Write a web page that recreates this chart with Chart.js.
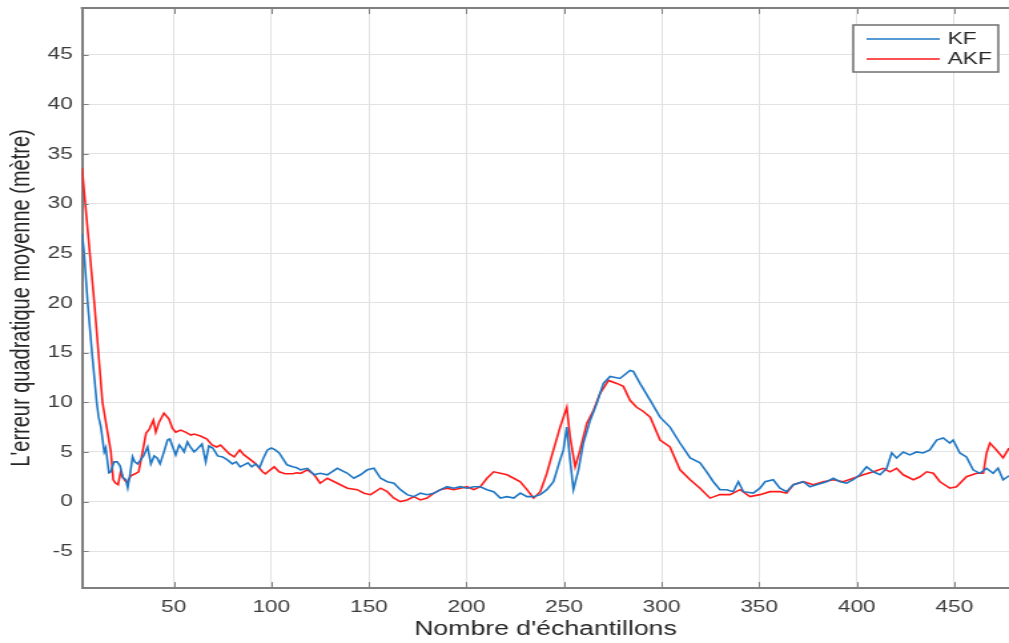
<!DOCTYPE html>
<html>
<head>
<meta charset="utf-8">
<script src="https://cdn.jsdelivr.net/npm/chart.js@4.4.1/dist/chart.umd.min.js"></script>
<style>
  html, body { margin: 0; padding: 0; background: #fff; overflow: hidden; }
  #wrap { width: 1009px; height: 643px; overflow: hidden; }
  #c { display: block; transform-origin: 0 0; transform: scaleX(1.3311); filter: blur(0.3px); }
</style>
</head>
<body>
<div id="wrap"><canvas id="c" width="758" height="643"></canvas></div>
<script>
// Sample index and RMS error (metres) for the plain Kalman filter
const kfSamples = [3, 4, 5.9, 8.1, 10.5, 11.5, 12.7, 14.4, 15.2, 16.8, 17.8, 19.4, 21, 22.5, 24, 25.5, 26.4, 27.5, 28.9, 30, 31.5, 33, 34.5, 36.6, 38.3, 40, 41.5, 43, 45, 46.8, 48, 49.5, 51, 52.8, 54, 55.3, 57, 58.5, 60.4, 62, 64.5, 66.4, 68, 70, 72.5, 75, 77.5, 80, 82, 84, 86, 88, 90, 92, 94, 96, 98, 100, 102, 104, 106, 108, 110.9, 113, 115, 118.5, 122, 125, 128.7, 133.8, 139, 142.3, 145.7, 149.2, 152.6, 156, 159.4, 162.8, 166.2, 169.6, 173, 176.4, 179.8, 183.3, 186.7, 190, 193.5, 196.9, 200.3, 203.7, 207.1, 210.5, 213.9, 217.4, 220.8, 224.2, 227.6, 231, 234.4, 237.8, 241.2, 244.6, 248, 249.7, 251.4, 253.1, 254.8, 257.4, 259.9, 263.4, 266.8, 270.2, 273.6, 278.7, 283.8, 285.5, 288.9, 294.2, 299.2, 304.3, 309.4, 314.6, 319.7, 323.1, 326.5, 329.9, 333.3, 336.7, 339.3, 341.9, 347, 350.4, 353, 357.2, 360.6, 364, 367.5, 372.6, 376, 379.4, 384.5, 388, 391.4, 394.8, 398.2, 401.6, 405, 408.5, 411.9, 415.3, 417.9, 420.4, 423.8, 427.2, 430.6, 434, 437.4, 440.9, 444.3, 447.7, 449.4, 452.8, 456.2, 459.6, 463, 466.5, 469.9, 472.4, 475, 478];
const kfError = [27.0, 25.2, 20.0, 15.0, 10.0, 8.5, 7.5, 5.0, 5.4, 2.9, 3.0, 4.0, 4.0, 3.6, 2.4, 2.2, 1.4, 2.6, 4.5, 4.0, 3.8, 4.2, 4.6, 5.5, 3.8, 4.6, 4.4, 3.8, 5.0, 6.2, 6.3, 5.5, 4.7, 5.7, 5.4, 5.0, 6.0, 5.5, 5.0, 5.3, 5.8, 4.0, 5.6, 5.4, 4.6, 4.5, 4.2, 3.8, 4.0, 3.5, 3.7, 3.9, 3.5, 3.8, 3.4, 4.4, 5.2, 5.4, 5.2, 4.9, 4.3, 3.7, 3.5, 3.4, 3.2, 3.35, 2.7, 2.85, 2.7, 3.35, 2.85, 2.35, 2.7, 3.2, 3.35, 2.35, 2.0, 1.85, 1.2, 0.7, 0.5, 0.85, 0.7, 0.85, 1.2, 1.5, 1.35, 1.5, 1.35, 1.5, 1.5, 1.2, 1.0, 0.35, 0.5, 0.35, 0.85, 0.5, 0.5, 0.7, 1.2, 2.0, 4.2, 5.2, 7.5, 4.2, 1.2, 3.2, 5.9, 8.2, 9.9, 11.9, 12.6, 12.4, 13.2, 13.1, 11.9, 10.2, 8.5, 7.5, 5.9, 4.4, 3.9, 3.0, 2.0, 1.2, 1.2, 1.0, 2.0, 1.0, 0.85, 1.35, 2.0, 2.2, 1.35, 1.0, 1.7, 2.0, 1.5, 1.7, 2.0, 2.35, 2.0, 1.85, 2.2, 2.7, 3.5, 3.0, 2.7, 3.35, 4.9, 4.4, 5.0, 4.7, 5.0, 4.9, 5.2, 6.2, 6.4, 5.9, 6.2, 4.9, 4.5, 3.2, 2.85, 3.35, 2.85, 3.35, 2.2, 2.6];

// Sample index and RMS error (metres) for the adaptive Kalman filter
const akfSamples = [3, 9.3, 13.5, 17.8, 19, 20, 21.5, 22.8, 24, 25.5, 26.4, 28, 30.2, 32, 34, 35.8, 37.5, 39.6, 40.8, 42.5, 45, 47.6, 49.3, 51, 53.6, 56, 58.8, 60.4, 63.7, 67, 69.6, 72, 74, 76.5, 78.5, 81, 83.8, 86, 88.8, 92, 95.5, 97, 99.5, 101.5, 104, 107, 110.9, 113, 115, 118.5, 122, 125, 128.7, 133.8, 139, 144, 147.5, 150.9, 156, 159.4, 162.8, 166.2, 169.6, 173, 176.4, 179.8, 183.3, 186.7, 190, 193.5, 196.9, 200.3, 203.7, 207.1, 210.5, 213.9, 217.4, 220.8, 224.2, 227.6, 231, 234.4, 237.8, 241.2, 244.6, 248, 251.4, 253.1, 255.7, 258.2, 261.7, 265.1, 268.5, 272.8, 277, 280.4, 283.8, 287.2, 290.5, 294.2, 299.2, 304.3, 309.4, 314.6, 319.7, 324.8, 329.9, 335, 340.2, 345.3, 350.4, 355.5, 360.6, 364, 367.5, 372.6, 377.7, 382.8, 388, 393.1, 398.2, 403.3, 408.5, 413.6, 417, 420.4, 423.8, 429, 432.4, 435.8, 439.2, 442.6, 447.7, 451.1, 456.2, 461.4, 464.8, 466.5, 468.2, 471.6, 475, 478];
const akfError = [33.6, 20.0, 10.0, 5.0, 2.2, 1.9, 1.7, 3.0, 2.4, 2.0, 2.0, 2.6, 2.8, 3.0, 5.0, 6.9, 7.3, 8.2, 7.0, 8.0, 8.9, 8.3, 7.4, 7.0, 7.2, 7.0, 6.7, 6.8, 6.6, 6.3, 5.7, 5.5, 5.7, 5.2, 4.8, 4.5, 5.2, 4.7, 4.3, 3.8, 3.0, 2.8, 3.2, 3.5, 3.0, 2.8, 2.8, 2.9, 2.85, 3.2, 2.7, 1.85, 2.35, 1.85, 1.35, 1.2, 0.85, 0.7, 1.35, 1.0, 0.35, 0.0, 0.17, 0.5, 0.17, 0.35, 0.85, 1.2, 1.35, 1.2, 1.35, 1.5, 1.2, 1.5, 2.35, 3.0, 2.85, 2.7, 2.35, 2.0, 1.2, 0.35, 1.0, 2.85, 5.2, 7.5, 9.5, 6.5, 3.5, 5.2, 7.9, 9.2, 10.9, 12.2, 11.9, 11.6, 10.2, 9.5, 9.1, 8.5, 6.2, 5.5, 3.2, 2.2, 1.35, 0.35, 0.7, 0.7, 1.2, 0.5, 0.7, 1.0, 1.0, 0.85, 1.7, 2.0, 1.7, 2.0, 2.2, 2.0, 2.35, 2.7, 3.0, 3.35, 3.0, 3.35, 2.7, 2.2, 2.5, 3.0, 2.85, 2.0, 1.35, 1.5, 2.5, 2.85, 2.85, 4.9, 5.9, 5.2, 4.4, 5.4];

const seriesNames = ['KF', 'AKF'];
const seriesColors = ['#1f77c4', '#ff1a1a'];

// Axis ticks and ranges
const xTicks = [50, 100, 150, 200, 250, 300, 350, 400, 450];
const yTicks = [-5, 0, 5, 10, 15, 20, 25, 30, 35, 40, 45];
const xRange = [3, 478];
const yRange = [-8.7, 49.7];

const xTitle = "Nombre d'échantillons";
const yTitle = "L'erreur quadratique moyenne (mètre)";

const FONT = "'Liberation Sans', Arial, Helvetica, sans-serif";
const AXIS_GREY = '#7f7f7f';

const toPoints = (xs, ys) => xs.map((x, i) => ({ x: x, y: ys[i] }));

// Frame on top, inward tick marks, and the boxed legend
const framePlugin = {
  id: 'frame',
  afterDatasetsDraw(chart) {
    const { ctx, chartArea: a, scales } = chart;
    ctx.save();
    ctx.strokeStyle = AXIS_GREY;
    ctx.lineWidth = 2;
    ctx.beginPath();
    ctx.moveTo(a.left - 1, a.top);
    ctx.lineTo(a.right + 2, a.top);
    ctx.stroke();

    ctx.lineWidth = 1;
    ctx.beginPath();
    xTicks.forEach(v => {
      const px = Math.round(scales.x.getPixelForValue(v)) + 0.5;
      ctx.moveTo(px, a.top); ctx.lineTo(px, a.top + 6);
      ctx.moveTo(px, a.bottom); ctx.lineTo(px, a.bottom - 6);
    });
    yTicks.forEach(v => {
      const py = Math.round(scales.y.getPixelForValue(v)) + 0.5;
      ctx.moveTo(a.left, py); ctx.lineTo(a.left + 5, py);
    });
    ctx.stroke();

    // legend
    const bx = a.right - 117, by = 25, bw = 109, bh = 47;
    ctx.fillStyle = '#ffffff';
    ctx.fillRect(bx, by, bw, bh);
    ctx.strokeStyle = '#6f6f6f';
    ctx.lineWidth = 1.5;
    ctx.strokeRect(bx, by, bw, bh);
    ctx.font = '17px ' + FONT;
    ctx.textBaseline = 'middle';
    ctx.textAlign = 'left';
    chart.data.datasets.forEach((ds, i) => {
      const ly = by + 14 + i * 20;
      ctx.strokeStyle = ds.borderColor;
      ctx.lineWidth = 1.6;
      ctx.beginPath();
      ctx.moveTo(bx + 10, ly); ctx.lineTo(bx + 65, ly);
      ctx.stroke();
      ctx.fillStyle = '#262626';
      ctx.fillText(ds.label, bx + 71, ly);
    });
    ctx.restore();
  }
};

new Chart(document.getElementById('c'), {
  type: 'line',
  data: {
    datasets: [
      { label: seriesNames[0], data: toPoints(kfSamples, kfError), borderColor: seriesColors[0] },
      { label: seriesNames[1], data: toPoints(akfSamples, akfError), borderColor: seriesColors[1] }
    ]
  },
  options: {
    responsive: false,
    animation: false,
    events: [],
    layout: { padding: { left: 0, right: 0, top: 8, bottom: 0 } },
    elements: {
      line: { borderWidth: 1.6, tension: 0, fill: false },
      point: { radius: 0 }
    },
    plugins: { legend: { display: false }, tooltip: { enabled: false } },
    scales: {
      x: {
        type: 'linear',
        min: xRange[0], max: xRange[1],
        afterFit(s) { s.height = 55; s.paddingLeft = 0; s.paddingRight = 0; },
        afterBuildTicks(s) { s.ticks = xTicks.map(v => ({ value: v })); },
        grid: { color: '#e2e2e2', lineWidth: 1, drawTicks: false },
        border: { display: true, color: AXIS_GREY, width: 2 },
        ticks: { color: '#3c3c3c', font: { family: FONT, size: 17 }, padding: 9, maxRotation: 0 },
        title: { display: true, text: xTitle, color: '#262626', font: { family: FONT, size: 20 }, padding: { top: 0, bottom: 2 } }
      },
      y: {
        type: 'linear',
        min: yRange[0], max: yRange[1],
        afterFit(s) { s.width = 61.6; s.paddingTop = 0; s.paddingBottom = 0; },
        afterBuildTicks(s) { s.ticks = yTicks.map(v => ({ value: v })); },
        grid: { color: '#e2e2e2', lineWidth: 1, drawTicks: false },
        border: { display: true, color: AXIS_GREY, width: 2 },
        ticks: { color: '#3c3c3c', font: { family: FONT, size: 17 }, padding: 7 },
        title: { display: true, text: yTitle, color: '#262626', font: { family: FONT, size: 20 }, padding: { top: 4.5, bottom: 0 } }
      }
    }
  },
  plugins: [framePlugin]
});
</script>
</body>
</html>
